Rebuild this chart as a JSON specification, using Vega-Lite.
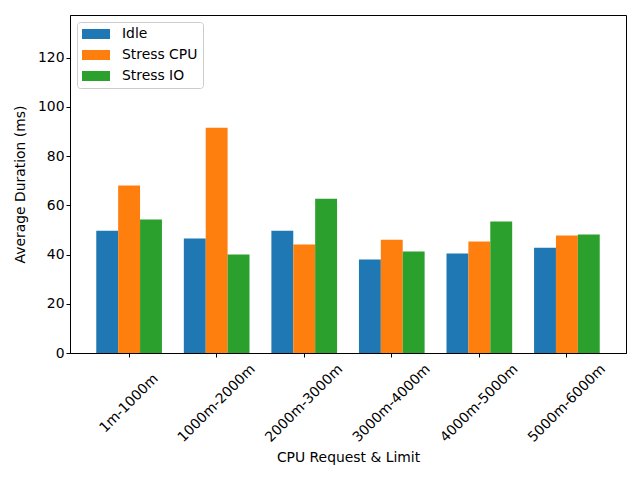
{
  "$schema": "https://vega.github.io/schema/vega-lite/v6.json",
  "width": 556,
  "height": 338,
  "autosize": {"type": "none"},
  "padding": {"left": 70, "top": 15, "right": 14, "bottom": 127},
  "data": {
    "values": [
      {"cpu": "1m-1000m", "series": "Idle", "duration": 49.7},
      {"cpu": "1m-1000m", "series": "Stress CPU", "duration": 68.0},
      {"cpu": "1m-1000m", "series": "Stress IO", "duration": 54.2},
      {"cpu": "1000m-2000m", "series": "Idle", "duration": 46.5},
      {"cpu": "1000m-2000m", "series": "Stress CPU", "duration": 91.5},
      {"cpu": "1000m-2000m", "series": "Stress IO", "duration": 40.0},
      {"cpu": "2000m-3000m", "series": "Idle", "duration": 49.7},
      {"cpu": "2000m-3000m", "series": "Stress CPU", "duration": 44.1},
      {"cpu": "2000m-3000m", "series": "Stress IO", "duration": 62.7},
      {"cpu": "3000m-4000m", "series": "Idle", "duration": 38.0},
      {"cpu": "3000m-4000m", "series": "Stress CPU", "duration": 46.0},
      {"cpu": "3000m-4000m", "series": "Stress IO", "duration": 41.2},
      {"cpu": "4000m-5000m", "series": "Idle", "duration": 40.4},
      {"cpu": "4000m-5000m", "series": "Stress CPU", "duration": 45.3},
      {"cpu": "4000m-5000m", "series": "Stress IO", "duration": 53.4},
      {"cpu": "5000m-6000m", "series": "Idle", "duration": 42.8},
      {"cpu": "5000m-6000m", "series": "Stress CPU", "duration": 47.7},
      {"cpu": "5000m-6000m", "series": "Stress IO", "duration": 48.1}
    ]
  },
  "config": {
    "font": "DejaVu Sans",
    "view": {"stroke": "black", "strokeWidth": 1},
    "axis": {
      "grid": false,
      "domainColor": "black",
      "tickColor": "black",
      "labelColor": "black",
      "titleColor": "black",
      "labelFontSize": 13.9,
      "titleFontSize": 13.9,
      "titleFontWeight": "normal",
      "tickSize": 4
    }
  },
  "mark": {"type": "bar"},
  "encoding": {
    "x": {
      "field": "cpu",
      "type": "nominal",
      "sort": null,
      "title": "CPU Request & Limit",
      "scale": {"paddingInner": 0.25, "paddingOuter": 0.3},
      "axis": {
        "labelAngle": -45,
        "labelAlign": "center",
        "labelBaseline": "middle",
        "labelPadding": 46,
        "titlePadding": 6
      }
    },
    "xOffset": {
      "field": "series",
      "type": "nominal",
      "sort": ["Idle", "Stress CPU", "Stress IO"],
      "scale": {"paddingInner": 0, "paddingOuter": 0}
    },
    "y": {
      "field": "duration",
      "type": "quantitative",
      "title": "Average Duration (ms)",
      "scale": {"domain": [0, 137.3], "nice": false},
      "axis": {"values": [0, 20, 40, 60, 80, 100, 120], "titlePadding": 10}
    },
    "color": {
      "field": "series",
      "type": "nominal",
      "sort": ["Idle", "Stress CPU", "Stress IO"],
      "scale": {"range": ["#1f77b4", "#ff7f0e", "#2ca02c"]},
      "legend": {
        "title": null,
        "orient": "top-left",
        "offset": 7,
        "labelFontSize": 13.9,
        "labelColor": "black",
        "labelOffset": 19,
        "symbolType": "M-2,-0.714H2V0.714H-2Z",
        "symbolSize": 196,
        "symbolOffset": 7,
        "symbolStrokeWidth": 0,
        "symbolOpacity": 1,
        "rowPadding": 7,
        "padding": 5,
        "strokeColor": "#cccccc",
        "fillColor": "white",
        "cornerRadius": 3
      }
    }
  }
}
